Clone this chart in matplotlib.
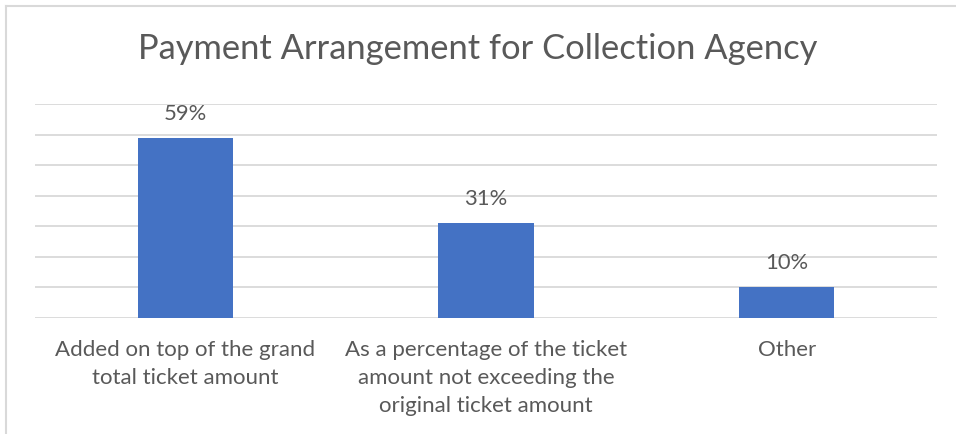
import matplotlib
matplotlib.use('Agg')
import matplotlib.pyplot as plt
from matplotlib.lines import Line2D

plt.rcParams['font.family'] = ['Lato', 'DejaVu Sans']

# Datos
categorias = [
    'Added on top of the grand\ntotal ticket amount',
    'As a percentage of the ticket\namount not exceeding the\noriginal ticket amount',
    'Other',
]
valores = [0.59, 0.31, 0.10]
etiquetas = ['59%', '31%', '10%']

texto = '#595959'
rejilla = '#d9d9d9'

fig = plt.figure(figsize=(9.56, 4.34), dpi=100)
W, H = 956, 434
ax = fig.add_axes([35 / W, (H - 317.5) / H, (937 - 35) / W, (317.5 - 104) / H])

x = range(len(categorias))
ax.bar(x, valores, width=0.316, color='#4472C4', zorder=3)

ax.set_xlim(-0.5, 2.5)
ax.set_ylim(0, 0.7)
ax.set_yticks([i / 10 for i in range(8)])
ax.yaxis.grid(True, color=rejilla, linewidth=1.3, zorder=0)
ax.tick_params(axis='y', left=False, labelleft=False)
ax.tick_params(axis='x', length=0, pad=16, labelsize=16, labelcolor=texto)
ax.set_xticks(list(x))
ax.set_xticklabels(categorias, linespacing=1.5)
for s in ax.spines.values():
    s.set_visible(False)

# Etiquetas de valor encima de cada barra
for xi, v, lab in zip(x, valores, etiquetas):
    ax.annotate(lab, (xi, v), textcoords='offset points', xytext=(0, 10),
                ha='center', va='bottom', fontsize=15.8, color=texto)

fig.text(0.5, (H - 49) / H, 'Payment Arrangement for Collection Agency',
         ha='center', va='center', fontsize=24.8, color=texto)

# Borde del gráfico
fig.add_artist(Line2D([5.5 / W, 5.5 / W], [0, (H - 5.5) / H], transform=fig.transFigure,
                      color=rejilla, linewidth=1.5))
fig.add_artist(Line2D([5.5 / W, 1], [(H - 5.5) / H, (H - 5.5) / H], transform=fig.transFigure,
                      color=rejilla, linewidth=1.5))

fig.savefig('out.png', dpi=100)
